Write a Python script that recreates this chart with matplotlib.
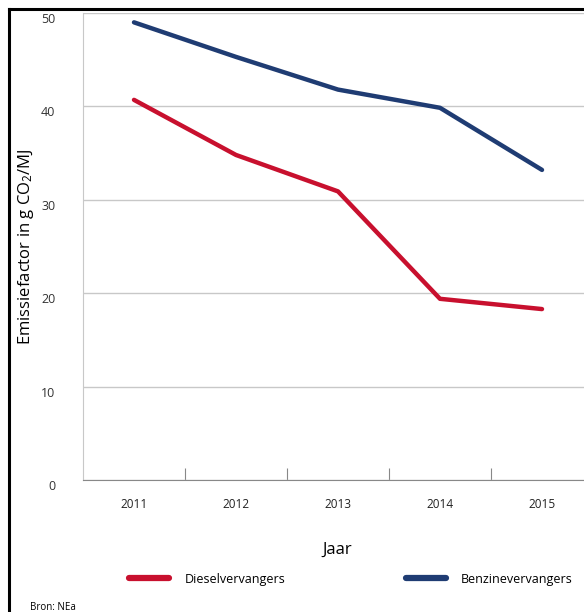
import matplotlib
matplotlib.use("Agg")
import matplotlib.pyplot as plt
import matplotlib.transforms as mtransforms
from matplotlib.lines import Line2D

plt.rcParams["font.family"] = ["Open Sans", "DejaVu Sans"]
plt.rcParams["mathtext.default"] = "regular"

years = [2011, 2012, 2013, 2014, 2015]
diesel = [40.7, 34.8, 30.9, 19.4, 18.3]
benzine = [49.0, 45.3, 41.8, 39.85, 33.2]
y_ticks = [0, 10, 20, 30, 40, 50]

red = "#C8102E"
blue = "#1F3C73"
grid_col = "#C8C8C8"

fig = plt.figure(figsize=(5.84, 6.12), dpi=100)
# axes runs a bit past the right edge, as in the original crop
ax = fig.add_axes([83 / 584, 1 - 480 / 612, (593 - 83) / 584, (480 - 13) / 612])

ax.plot(years, diesel, color=red, lw=3.2, solid_capstyle="round", label="Dieselvervangers")
ax.plot(years, benzine, color=blue, lw=3.2, solid_capstyle="round", label="Benzinevervangers")

ax.set_xlim(years[0] - 0.5, years[-1] + 0.5)
ax.set_ylim(0, 50)
ax.set_yticks(y_ticks)
ax.set_yticklabels([str(v) for v in y_ticks], fontsize=9, color="#333333")
ax.tick_params(axis="y", length=0, pad=20)
offset = mtransforms.ScaledTranslation(0, -5 / 100, fig.dpi_scale_trans)
for lbl in ax.get_yticklabels():
    lbl.set_transform(lbl.get_transform() + offset)

ax.set_xticks(years)
ax.set_xticklabels([str(y) for y in years], fontsize=8.5, color="#222222")
ax.tick_params(axis="x", which="major", length=0, pad=13)
ax.set_xticks([y + 0.5 for y in years[:-1]], minor=True)
ax.tick_params(axis="x", which="minor", direction="in", length=9, width=0.8, color="#888888")

ax.grid(axis="y", color=grid_col, lw=1)
ax.set_axisbelow(True)
for s in ["top", "right"]:
    ax.spines[s].set_visible(False)
ax.spines["left"].set_color(grid_col)
ax.spines["bottom"].set_color("#888888")

ax.set_xlabel("Jaar", fontsize=12)
ax.xaxis.set_label_coords((337 - 83) / 510, -(542 - 480) / 467)
ax.set_ylabel("Emissiefactor in g CO$_2$/MJ", fontsize=12)
ax.yaxis.set_label_coords(-(83 - 36) / 510, 0.5)

# legend below the plot
handles = [Line2D([], [], color=red, lw=4.5, solid_capstyle="round"),
           Line2D([], [], color=blue, lw=4.5, solid_capstyle="round")]
fig.legend(handles[:1], ["Dieselvervangers"], loc="center left",
           bbox_to_anchor=(118 / 584, 1 - 579 / 612), frameon=False,
           fontsize=9, handlelength=3.2, handletextpad=1.2)
fig.legend(handles[1:], ["Benzinevervangers"], loc="center left",
           bbox_to_anchor=(395 / 584, 1 - 579 / 612), frameon=False,
           fontsize=9, handlelength=3.2, handletextpad=1.2)

fig.text(30 / 584, 1 - 607 / 612, "Bron: NEa", fontsize=7, va="center")

# black frame on left and top
fig.add_artist(Line2D([9 / 584, 9 / 584], [0, 1 - 9 / 612], color="black", lw=2.2,
                      transform=fig.transFigure))
fig.add_artist(Line2D([9 / 584, 1], [1 - 9 / 612, 1 - 9 / 612], color="black", lw=2.2,
                      transform=fig.transFigure))

fig.savefig("out.png", dpi=100)
